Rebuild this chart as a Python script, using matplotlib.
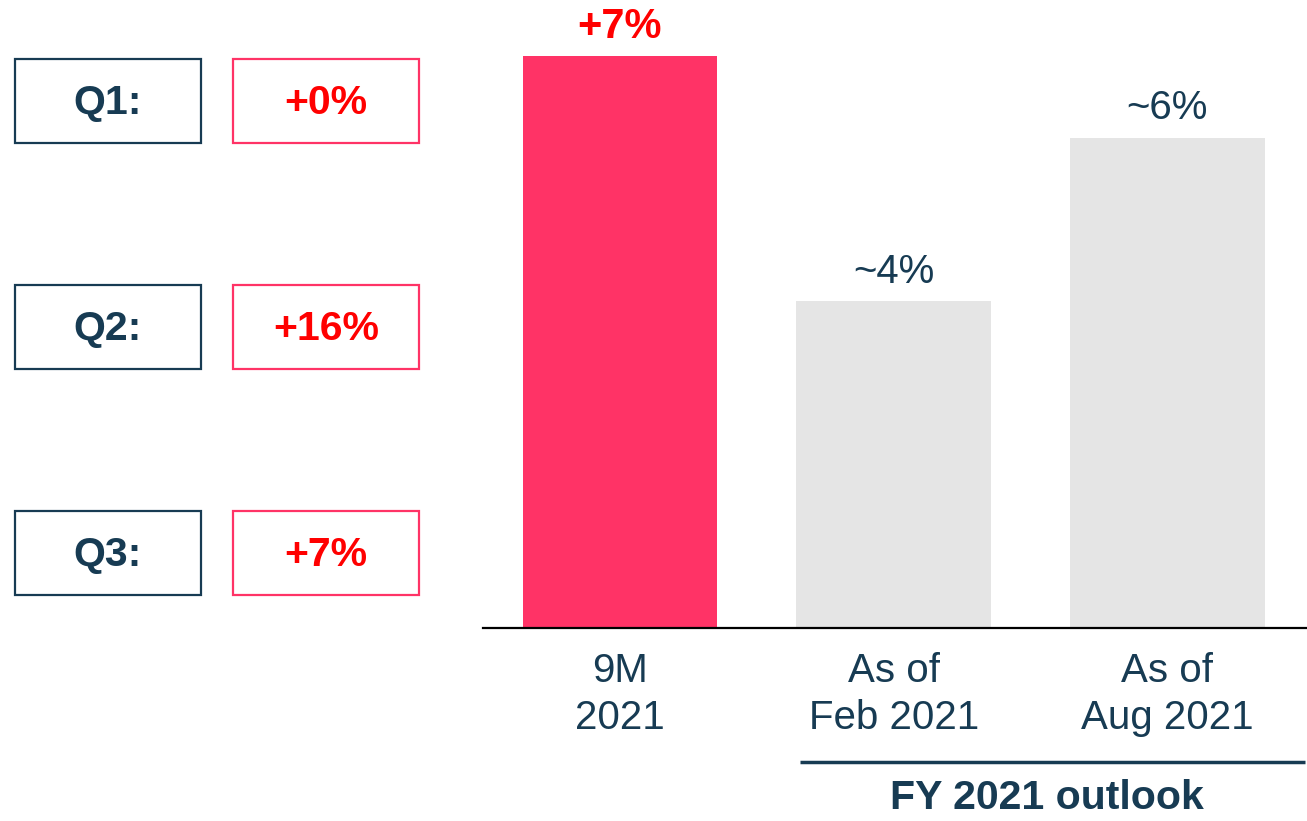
import matplotlib
matplotlib.use("Agg")
import matplotlib.pyplot as plt
from matplotlib.patches import Rectangle

# data
categories = ["9M\n2021", "As of\nFeb 2021", "As of\nAug 2021"]
values = [7, 4, 6]
value_labels = ["+7%", "~4%", "~6%"]
quarters = ["Q1:", "Q2:", "Q3:"]
quarter_growth = ["+0%", "+16%", "+7%"]
outlook_label = "FY 2021 outlook"

NAVY = "#173B53"
PINK = "#FF3366"
RED = "#FF0000"
GREY = "#E5E5E5"

plt.rcParams["font.family"] = ["Liberation Sans", "DejaVu Sans"]

W, H = 1307, 821
fig = plt.figure(figsize=(W / 100, H / 100), dpi=100)

# main bar chart
ax = fig.add_axes([483 / W, (H - 628) / H, (W - 483) / W, 628 / H])
bar_colors = [PINK, GREY, GREY]
ax.bar(range(len(values)), values, width=0.71, color=bar_colors)
ax.set_xlim(-0.5, 2.51)
ax.set_ylim(0, 7.686)
for i, (v, lab) in enumerate(zip(values, value_labels)):
    first = i == 0
    ax.annotate(lab, (i, v), xytext=(0, 6.5 if first else 7.5), textcoords="offset points",
                ha="center", va="bottom", fontsize=30 if first else 29,
                color=RED if first else NAVY,
                fontweight="bold" if first else "normal")
ax.set_xticks(range(len(categories)))
ax.set_xticklabels(categories, fontsize=29, color=NAVY, linespacing=1.32)
ax.tick_params(axis="x", length=0, pad=17)
ax.set_yticks([])
for s in ["top", "left", "right"]:
    ax.spines[s].set_visible(False)
ax.spines["bottom"].set_linewidth(1.6)
ax.spines["bottom"].set_color("black")

# overlay for boxes and outlook bracket (pixel coordinates)
ov = fig.add_axes([0, 0, 1, 1])
ov.set_xlim(0, W)
ov.set_ylim(H, 0)
ov.axis("off")
ov.patch.set_visible(False)

box_tops = [59, 285, 511]
for top, q, g in zip(box_tops, quarters, quarter_growth):
    ov.add_patch(Rectangle((15, top), 186, 84, fill=False, edgecolor=NAVY, lw=1.6))
    ov.add_patch(Rectangle((233, top), 186, 84, fill=False, edgecolor=PINK, lw=1.6))
    ov.text(108, top + 44, q, ha="center", va="center", fontsize=29.5,
            fontweight="bold", color=NAVY)
    ov.text(326, top + 44, g, ha="center", va="center", fontsize=29.5,
            fontweight="bold", color=RED)

ov.plot([800, 1305], [762, 762], color=NAVY, lw=2.5, solid_capstyle="butt")
ov.text(1047, 798, outlook_label, ha="center", va="center", fontsize=29.5,
        fontweight="bold", color=NAVY)

fig.savefig("out.png", dpi=100)
